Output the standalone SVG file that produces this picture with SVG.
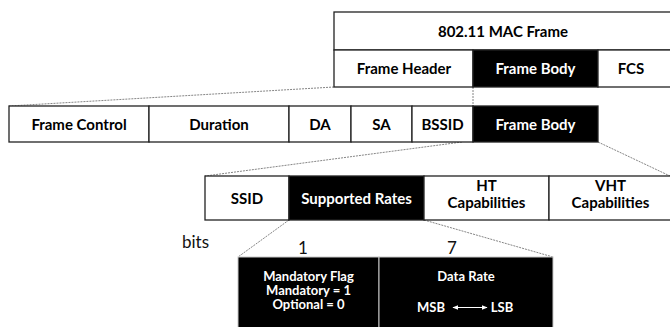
<svg xmlns="http://www.w3.org/2000/svg" width="670" height="327" viewBox="0 0 670 327">
<style>
.w{fill:#fff;stroke:#222;stroke-width:1.3}
.b{fill:#000;stroke:#222;stroke-width:1.3}
.bb{fill:#000;stroke:#c8c8c8;stroke-width:1}
.t{font-family:Lato,"Open Sans",sans-serif;font-weight:bold;font-size:15px;text-anchor:middle;fill:#000}
.tw{fill:#fff}
.s{font-family:Lato,"Open Sans",sans-serif;font-weight:bold;font-size:13px;text-anchor:middle;fill:#fff}
.r{font-family:Lato,"Open Sans",sans-serif;font-size:17px;fill:#111}
.c{fill:none;stroke:#777;stroke-width:0.9;stroke-dasharray:2 1}
</style>
<defs>
<marker id="ah" viewBox="0 0 10 10" refX="9" refY="5" markerWidth="6" markerHeight="6" orient="auto-start-reverse"><path d="M0,1 L10,5 L0,9 z" fill="#fff"/></marker>
</defs>
<g id="connectors">
<line class="c" x1="334" y1="87" x2="9" y2="106"/>
<line class="c" x1="473" y1="87" x2="473" y2="106"/>
<line class="c" x1="462" y1="142" x2="205" y2="176"/>
<line class="c" x1="598" y1="142" x2="670" y2="176"/>
<line class="c" x1="289" y1="220" x2="238" y2="257"/>
<line class="c" x1="424" y1="220" x2="553" y2="257"/>
</g>
<g id="mac-frame">
<rect class="w" x="334" y="12" width="340" height="38"/>
<text class="t" x="503" y="37">802.11 MAC Frame</text>
</g>
<g id="frame-header">
<rect class="w" x="334" y="50" width="139" height="37"/>
<text class="t" x="404" y="74">Frame Header</text>
</g>
<g id="frame-body-1">
<rect class="b" x="473" y="50" width="125" height="37"/>
<text class="t tw" x="535.5" y="74">Frame Body</text>
</g>
<g id="fcs">
<rect class="w" x="598" y="50" width="76" height="37"/>
<text class="t" x="631" y="74">FCS</text>
</g>
<g id="frame-control">
<rect class="w" x="9" y="106" width="140" height="36"/>
<text class="t" x="79" y="130">Frame Control</text>
</g>
<g id="duration">
<rect class="w" x="149" y="106" width="140" height="36"/>
<text class="t" x="219" y="130">Duration</text>
</g>
<g id="da">
<rect class="w" x="289" y="106" width="62" height="36"/>
<text class="t" x="320" y="130">DA</text>
</g>
<g id="sa">
<rect class="w" x="351" y="106" width="61" height="36"/>
<text class="t" x="381.5" y="130">SA</text>
</g>
<g id="bssid">
<rect class="w" x="412" y="106" width="61" height="36"/>
<text class="t" x="442.5" y="130">BSSID</text>
</g>
<g id="frame-body-2">
<rect class="b" x="473" y="106" width="125" height="36"/>
<text class="t tw" x="535.5" y="130">Frame Body</text>
</g>
<g id="ssid">
<rect class="w" x="205" y="176" width="84" height="44"/>
<text class="t" x="247" y="204">SSID</text>
</g>
<g id="supported-rates">
<rect class="b" x="289" y="176" width="135" height="44"/>
<text class="t tw" x="356.5" y="204">Supported Rates</text>
</g>
<g id="ht-cap">
<rect class="w" x="424" y="176" width="125" height="44"/>
<text class="t" x="486.5" y="191">HT</text>
<text class="t" x="486.5" y="208">Capabilities</text>
</g>
<g id="vht-cap">
<rect class="w" x="549" y="176" width="125" height="44"/>
<text class="t" x="610.5" y="191">VHT</text>
<text class="t" x="610.5" y="208">Capabilities</text>
</g>
<g id="labels">
<text class="r" x="182" y="248">bits</text>
<text class="r" x="303" y="254" text-anchor="middle">1</text>
<text class="r" x="452" y="254" text-anchor="middle">7</text>
</g>
<g id="mandatory-flag">
<rect class="bb" x="238" y="257" width="141" height="75"/>
<text class="s" x="308.5" y="281">Mandatory Flag</text>
<text class="s" x="308.5" y="295">Mandatory = 1</text>
<text class="s" x="308.5" y="309">Optional = 0</text>
</g>
<g id="data-rate">
<rect class="bb" x="379" y="257" width="174" height="75"/>
<text class="s" x="466" y="281">Data Rate</text>
<text class="s" x="431" y="312">MSB</text>
<text class="s" x="502" y="312">LSB</text>
<line x1="453" y1="307.5" x2="487" y2="307.5" stroke="#fff" stroke-width="1" marker-start="url(#ah)" marker-end="url(#ah)"/>
</g>
</svg>
